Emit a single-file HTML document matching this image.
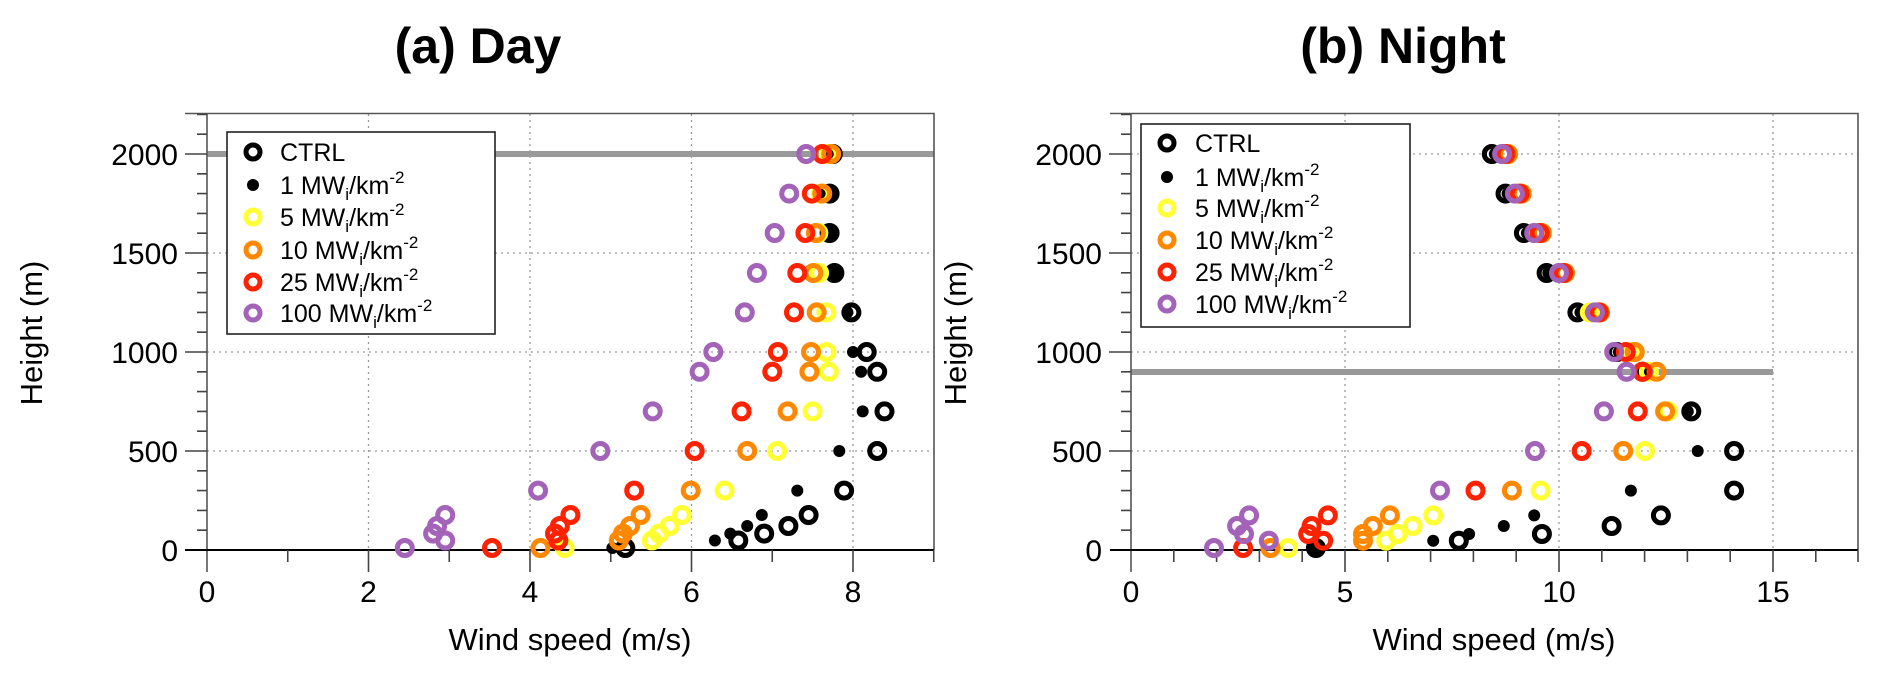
<!DOCTYPE html>
<html><head><meta charset="utf-8"><style>
html,body{margin:0;padding:0;background:#fff;}
svg{display:block;font-family:"Liberation Sans",Arial,sans-serif;}
.o{fill:none;stroke-width:5}
.k{stroke:#000}.y{stroke:#ffff33}.or{stroke:#ff8800}.r{stroke:#ff2200}.p{stroke:#a363b8}
.grid{stroke:#9a9a9a;stroke-width:1.3;stroke-dasharray:2 4;fill:none}
.tk{stroke:#444;stroke-width:1.6;fill:none}
.lab{font-size:30px;fill:#000}
.leg{font-size:25px;fill:#000}
</style></head><body>
<svg width="1881" height="679" viewBox="0 0 1881 679" xmlns="http://www.w3.org/2000/svg">
<rect width="1881" height="679" fill="#fff"/>
<!-- Titles -->
<text x="478" y="63" text-anchor="middle" font-size="50" font-weight="bold">(a) Day</text>
<text x="1403" y="63" text-anchor="middle" font-size="50" font-weight="bold">(b) Night</text>

<!-- ============ LEFT PLOT ============ -->
<g>
<path class="grid" d="M207 451H934M207 352H934M207 253H934M207 154H934M368.5 114V550M530 114V550M691.5 114V550M853 114V550"/>
<rect x="207" y="151" width="727" height="6" fill="#999"/>
<!-- spines -->
<path d="M185 113.5H934V550" stroke="#555" stroke-width="1.6" fill="none"/>
<path d="M207 113.5V572" stroke="#555" stroke-width="1.6" fill="none"/>
<path d="M185 550H934" stroke="#000" stroke-width="2" fill="none"/>
<!-- y ticks -->
<path class="tk" d="M197 530.2h10M197 510.4h10M197 490.6h10M197 470.8h10M185 451h22M197 431.2h10M197 411.4h10M197 391.6h10M197 371.8h10M185 352h22M197 332.2h10M197 312.4h10M197 292.6h10M197 272.8h10M185 253h22M197 233.2h10M197 213.4h10M197 193.6h10M197 173.8h10M185 154h22M197 134.2h10M197 114.4h10"/>
<!-- x ticks -->
<path class="tk" d="M287.75 550v12M449.25 550v12M610.75 550v12M772.25 550v12M933.75 550v12M368.5 550v22M530 550v22M691.5 550v22M853 550v22"/>
<g class="lab" text-anchor="end">
<text x="178" y="561">0</text><text x="178" y="462">500</text><text x="178" y="363">1000</text><text x="178" y="264">1500</text><text x="178" y="165">2000</text>
</g>
<g class="lab" text-anchor="middle">
<text x="207" y="602">0</text><text x="368.5" y="602">2</text><text x="530" y="602">4</text><text x="691.5" y="602">6</text><text x="853" y="602">8</text>
<text x="570" y="650" font-size="31">Wind speed (m/s)</text>
</g>
<text transform="translate(42,333) rotate(-90)" text-anchor="middle" font-size="31">Height (m)</text>

<!-- legend -->
<rect x="227" y="132" width="268" height="202" fill="#fff" stroke="#222" stroke-width="1.6"/>
<circle class="o k" cx="253" cy="152" r="7"/>
<circle cx="253" cy="185" r="6" fill="#000"/>
<circle class="o y" cx="253" cy="217" r="7"/>
<circle class="o or" cx="253" cy="250" r="7"/>
<circle class="o r" cx="253" cy="282" r="7"/>
<circle class="o p" cx="253" cy="313" r="7"/>
<g class="leg">
<text x="280" y="161">CTRL</text>
<text x="280" y="194">1 MW<tspan font-size="17" dy="6">i</tspan><tspan dy="-6">/km</tspan><tspan font-size="17" dy="-11">-2</tspan></text>
<text x="280" y="226">5 MW<tspan font-size="17" dy="6">i</tspan><tspan dy="-6">/km</tspan><tspan font-size="17" dy="-11">-2</tspan></text>
<text x="280" y="259">10 MW<tspan font-size="17" dy="6">i</tspan><tspan dy="-6">/km</tspan><tspan font-size="17" dy="-11">-2</tspan></text>
<text x="280" y="291">25 MW<tspan font-size="17" dy="6">i</tspan><tspan dy="-6">/km</tspan><tspan font-size="17" dy="-11">-2</tspan></text>
<text x="280" y="322">100 MW<tspan font-size="17" dy="6">i</tspan><tspan dy="-6">/km</tspan><tspan font-size="17" dy="-11">-2</tspan></text>
</g>

<!-- data -->
<g class="o k">
<circle cx="832.8" cy="154" r="7.5"/><circle cx="829.6" cy="193.6" r="7.5"/><circle cx="829.6" cy="233" r="7.5"/><circle cx="834.4" cy="273" r="7.5"/><circle cx="851.4" cy="312.4" r="7.5"/><circle cx="866.7" cy="352" r="7.5"/><circle cx="877.2" cy="371.8" r="7.5"/><circle cx="884.5" cy="411.4" r="7.5"/><circle cx="877.2" cy="451" r="7.5"/><circle cx="844.1" cy="490.6" r="7.5"/><circle cx="808.6" cy="515" r="7.5"/><circle cx="788.4" cy="526" r="7.5"/><circle cx="764.2" cy="533.6" r="7.5"/><circle cx="738.3" cy="540.5" r="7.5"/><circle cx="625.3" cy="548" r="7.5"/>
</g>
<g fill="#000">
<circle cx="830.4" cy="154" r="6"/><circle cx="829.6" cy="193.6" r="6"/><circle cx="829.6" cy="233" r="6"/><circle cx="834.4" cy="273" r="6"/><circle cx="847.4" cy="312.4" r="6"/><circle cx="853" cy="352" r="6"/><circle cx="861.1" cy="371.8" r="6"/><circle cx="862.7" cy="411.4" r="6"/><circle cx="839.3" cy="451" r="6"/><circle cx="797.3" cy="490.6" r="6"/><circle cx="761.8" cy="515" r="6"/><circle cx="747.2" cy="526" r="6"/><circle cx="730.3" cy="533.6" r="6"/><circle cx="714.9" cy="540.5" r="6"/><circle cx="612.4" cy="548" r="6"/>
</g>
<g class="o y">
<circle cx="828.8" cy="154" r="7.5"/><circle cx="820.7" cy="193.6" r="7.5"/><circle cx="818.3" cy="233" r="7.5"/><circle cx="819.1" cy="273" r="7.5"/><circle cx="826.4" cy="312.4" r="7.5"/><circle cx="826.4" cy="352" r="7.5"/><circle cx="828.8" cy="371.8" r="7.5"/><circle cx="812.6" cy="411.4" r="7.5"/><circle cx="777.1" cy="451" r="7.5"/><circle cx="724.6" cy="490.6" r="7.5"/><circle cx="681.8" cy="515" r="7.5"/><circle cx="669.7" cy="526" r="7.5"/><circle cx="659.2" cy="533.6" r="7.5"/><circle cx="651.9" cy="540.5" r="7.5"/><circle cx="564.7" cy="548" r="7.5"/>
</g>
<g class="o or">
<circle cx="831.2" cy="154" r="7.5"/><circle cx="822.3" cy="193.6" r="7.5"/><circle cx="815.9" cy="233" r="7.5"/><circle cx="813.4" cy="273" r="7.5"/><circle cx="816.7" cy="312.4" r="7.5"/><circle cx="811" cy="352" r="7.5"/><circle cx="809.4" cy="371.8" r="7.5"/><circle cx="787.6" cy="411.4" r="7.5"/><circle cx="747.2" cy="451" r="7.5"/><circle cx="690.7" cy="490.6" r="7.5"/><circle cx="640.6" cy="515" r="7.5"/><circle cx="630.1" cy="526" r="7.5"/><circle cx="622.9" cy="533.6" r="7.5"/><circle cx="618.8" cy="540.5" r="7.5"/><circle cx="540.5" cy="548" r="7.5"/>
</g>
<g class="o r">
<circle cx="822.3" cy="154" r="7.5"/><circle cx="811.8" cy="193.6" r="7.5"/><circle cx="805.4" cy="233" r="7.5"/><circle cx="797.3" cy="273" r="7.5"/><circle cx="794" cy="312.4" r="7.5"/><circle cx="777.9" cy="352" r="7.5"/><circle cx="772.3" cy="371.8" r="7.5"/><circle cx="741.6" cy="411.4" r="7.5"/><circle cx="694.7" cy="451" r="7.5"/><circle cx="634.2" cy="490.6" r="7.5"/><circle cx="570.4" cy="515" r="7.5"/><circle cx="559.9" cy="526" r="7.5"/><circle cx="555" cy="533.6" r="7.5"/><circle cx="558.3" cy="540.5" r="7.5"/><circle cx="492" cy="548" r="7.5"/>
</g>
<g class="o p">
<circle cx="806.2" cy="154" r="7.5"/><circle cx="789.2" cy="193.6" r="7.5"/><circle cx="774.7" cy="233" r="7.5"/><circle cx="756.9" cy="273" r="7.5"/><circle cx="744.8" cy="312.4" r="7.5"/><circle cx="713.3" cy="352" r="7.5"/><circle cx="699.6" cy="371.8" r="7.5"/><circle cx="652.7" cy="411.4" r="7.5"/><circle cx="600.3" cy="451" r="7.5"/><circle cx="538.1" cy="490.6" r="7.5"/><circle cx="445.2" cy="515" r="7.5"/><circle cx="437.1" cy="526" r="7.5"/><circle cx="433.1" cy="533.6" r="7.5"/><circle cx="445.2" cy="540.5" r="7.5"/><circle cx="404.8" cy="548" r="7.5"/>
</g>
</g>

<!-- ============ RIGHT PLOT ============ -->
<g>
<path class="grid" d="M1131 451H1858M1131 352H1858M1131 253H1858M1131 154H1858M1345 114V550M1559 114V550M1773 114V550"/>
<rect x="1131" y="369" width="642" height="6" fill="#999"/>
<path d="M1110 113.5H1858V550" stroke="#555" stroke-width="1.6" fill="none"/>
<path d="M1131 113.5V572" stroke="#555" stroke-width="1.6" fill="none"/>
<path d="M1110 550H1858" stroke="#000" stroke-width="2" fill="none"/>
<path class="tk" d="M1121 530.2h10M1121 510.4h10M1121 490.6h10M1121 470.8h10M1109 451h22M1121 431.2h10M1121 411.4h10M1121 391.6h10M1121 371.8h10M1109 352h22M1121 332.2h10M1121 312.4h10M1121 292.6h10M1121 272.8h10M1109 253h22M1121 233.2h10M1121 213.4h10M1121 193.6h10M1121 173.8h10M1109 154h22M1121 134.2h10M1121 114.4h10"/>
<path class="tk" d="M1173.8 550v12M1216.6 550v12M1259.4 550v12M1302.2 550v12M1387.8 550v12M1430.6 550v12M1473.4 550v12M1516.2 550v12M1601.8 550v12M1644.6 550v12M1687.4 550v12M1730.2 550v12M1815.8 550v12M1858 550v12M1345 550v22M1559 550v22M1773 550v22"/>
<g class="lab" text-anchor="end">
<text x="1102" y="561">0</text><text x="1102" y="462">500</text><text x="1102" y="363">1000</text><text x="1102" y="264">1500</text><text x="1102" y="165">2000</text>
</g>
<g class="lab" text-anchor="middle">
<text x="1131" y="602">0</text><text x="1345" y="602">5</text><text x="1559" y="602">10</text><text x="1773" y="602">15</text>
<text x="1494" y="650" font-size="31">Wind speed (m/s)</text>
</g>
<text transform="translate(966,333) rotate(-90)" text-anchor="middle" font-size="31">Height (m)</text>

<rect x="1141" y="124" width="269" height="203" fill="#fff" stroke="#222" stroke-width="1.6"/>
<circle class="o k" cx="1167" cy="143" r="7"/>
<circle cx="1167" cy="177" r="6" fill="#000"/>
<circle class="o y" cx="1167" cy="208" r="7"/>
<circle class="o or" cx="1167" cy="240" r="7"/>
<circle class="o r" cx="1167" cy="272" r="7"/>
<circle class="o p" cx="1167" cy="304" r="7"/>
<g class="leg">
<text x="1195" y="152">CTRL</text>
<text x="1195" y="186">1 MW<tspan font-size="17" dy="6">i</tspan><tspan dy="-6">/km</tspan><tspan font-size="17" dy="-11">-2</tspan></text>
<text x="1195" y="217">5 MW<tspan font-size="17" dy="6">i</tspan><tspan dy="-6">/km</tspan><tspan font-size="17" dy="-11">-2</tspan></text>
<text x="1195" y="249">10 MW<tspan font-size="17" dy="6">i</tspan><tspan dy="-6">/km</tspan><tspan font-size="17" dy="-11">-2</tspan></text>
<text x="1195" y="281">25 MW<tspan font-size="17" dy="6">i</tspan><tspan dy="-6">/km</tspan><tspan font-size="17" dy="-11">-2</tspan></text>
<text x="1195" y="313">100 MW<tspan font-size="17" dy="6">i</tspan><tspan dy="-6">/km</tspan><tspan font-size="17" dy="-11">-2</tspan></text>
</g>

<g class="o k">
<circle cx="1491.8" cy="154" r="7.5"/><circle cx="1505.5" cy="193.6" r="7.5"/><circle cx="1523.9" cy="233" r="7.5"/><circle cx="1546.6" cy="273" r="7.5"/><circle cx="1577.4" cy="312.4" r="7.5"/><circle cx="1616.8" cy="352" r="7.5"/><circle cx="1642.5" cy="371.8" r="7.5"/><circle cx="1691.3" cy="411.4" r="7.5"/><circle cx="1734.1" cy="451" r="7.5"/><circle cx="1734.1" cy="490.6" r="7.5"/><circle cx="1660.9" cy="515.4" r="7.5"/><circle cx="1611.6" cy="526" r="7.5"/><circle cx="1541.9" cy="534" r="7.5"/><circle cx="1458.8" cy="540.7" r="7.5"/><circle cx="1315.9" cy="548" r="7.5"/>
</g>
<g fill="#000">
<circle cx="1494.8" cy="154" r="6"/><circle cx="1507.6" cy="193.6" r="6"/><circle cx="1526.9" cy="233" r="6"/><circle cx="1548.3" cy="273" r="6"/><circle cx="1580.4" cy="312.4" r="6"/><circle cx="1618.9" cy="352" r="6"/><circle cx="1642.5" cy="371.8" r="6"/><circle cx="1687.8" cy="411.4" r="6"/><circle cx="1697.7" cy="451" r="6"/><circle cx="1630.9" cy="490.6" r="6"/><circle cx="1534.2" cy="515.4" r="6"/><circle cx="1503.8" cy="526" r="6"/><circle cx="1469.1" cy="534" r="6"/><circle cx="1433.2" cy="540.7" r="6"/><circle cx="1315" cy="548" r="6"/>
</g>
<g class="o y">
<circle cx="1505.5" cy="154" r="7.5"/><circle cx="1518.3" cy="193.6" r="7.5"/><circle cx="1537.6" cy="233" r="7.5"/><circle cx="1561.1" cy="273" r="7.5"/><circle cx="1589.8" cy="312.4" r="7.5"/><circle cx="1631.8" cy="352" r="7.5"/><circle cx="1648.9" cy="371.8" r="7.5"/><circle cx="1668.1" cy="411.4" r="7.5"/><circle cx="1645" cy="451" r="7.5"/><circle cx="1540.6" cy="490.6" r="7.5"/><circle cx="1433.2" cy="515.4" r="7.5"/><circle cx="1412.6" cy="526" r="7.5"/><circle cx="1397.6" cy="534" r="7.5"/><circle cx="1386.1" cy="540.7" r="7.5"/><circle cx="1288.1" cy="548" r="7.5"/>
</g>
<g class="o or">
<circle cx="1508.1" cy="154" r="7.5"/><circle cx="1521.8" cy="193.6" r="7.5"/><circle cx="1541.9" cy="233" r="7.5"/><circle cx="1565" cy="273" r="7.5"/><circle cx="1600.1" cy="312.4" r="7.5"/><circle cx="1634.8" cy="352" r="7.5"/><circle cx="1656.6" cy="371.8" r="7.5"/><circle cx="1665.1" cy="411.4" r="7.5"/><circle cx="1623.2" cy="451" r="7.5"/><circle cx="1511.9" cy="490.6" r="7.5"/><circle cx="1389.9" cy="515.4" r="7.5"/><circle cx="1372.8" cy="526" r="7.5"/><circle cx="1363" cy="534" r="7.5"/><circle cx="1363" cy="540.7" r="7.5"/><circle cx="1270.5" cy="548" r="7.5"/>
</g>
<g class="o r">
<circle cx="1505.5" cy="154" r="7.5"/><circle cx="1519.6" cy="193.6" r="7.5"/><circle cx="1539.7" cy="233" r="7.5"/><circle cx="1563.3" cy="273" r="7.5"/><circle cx="1598.8" cy="312.4" r="7.5"/><circle cx="1625.8" cy="352" r="7.5"/><circle cx="1642.5" cy="371.8" r="7.5"/><circle cx="1637.8" cy="411.4" r="7.5"/><circle cx="1581.7" cy="451" r="7.5"/><circle cx="1475.5" cy="490.6" r="7.5"/><circle cx="1327.9" cy="515.4" r="7.5"/><circle cx="1311.6" cy="526" r="7.5"/><circle cx="1308.2" cy="534" r="7.5"/><circle cx="1323.2" cy="540.7" r="7.5"/><circle cx="1243.1" cy="548" r="7.5"/>
</g>
<g class="o p">
<circle cx="1502.1" cy="154" r="7.5"/><circle cx="1514.9" cy="193.6" r="7.5"/><circle cx="1534.2" cy="233" r="7.5"/><circle cx="1559" cy="273" r="7.5"/><circle cx="1595" cy="312.4" r="7.5"/><circle cx="1614.2" cy="352" r="7.5"/><circle cx="1626.6" cy="371.8" r="7.5"/><circle cx="1603.9" cy="411.4" r="7.5"/><circle cx="1535" cy="451" r="7.5"/><circle cx="1440" cy="490.6" r="7.5"/><circle cx="1249.1" cy="515.4" r="7.5"/><circle cx="1237.1" cy="526" r="7.5"/><circle cx="1244" cy="534" r="7.5"/><circle cx="1268.8" cy="540.7" r="7.5"/><circle cx="1214" cy="548" r="7.5"/>
</g>
</g>
</svg>
</body></html>
